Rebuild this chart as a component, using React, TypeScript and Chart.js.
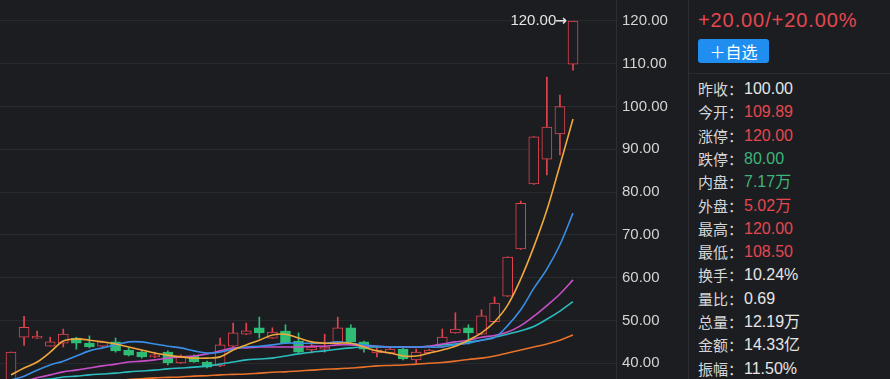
import React, { useEffect, useRef } from 'react';
import { Chart, registerables } from 'chart.js';

Chart.register(...registerables);

// ---- data ----
const opens = [35.5, 46.1, 45.9, 44.0, 44.7, 45.9, 44.7, 44.0, 45.0, 43.1, 42.6, 41.5, 42.6, 40.1, 41.7, 40.3, 39.4, 44.0, 46.8, 48.3, 45.9, 47.5, 45.2, 43.1, 43.3, 45.0, 48.3, 45.0, 42.4, 42.4, 43.3, 40.8, 42.4, 43.8, 47.1, 48.3, 46.8, 49.7, 55.7, 66.7, 81.9, 87.7, 93.6, 109.89];
const highs = [42.6, 51.0, 47.5, 46.1, 48.0, 46.1, 46.4, 45.2, 45.9, 43.6, 43.0, 42.6, 42.9, 42.0, 42.0, 40.5, 45.9, 49.4, 49.4, 50.8, 48.3, 49.0, 47.1, 44.7, 46.8, 50.8, 49.0, 45.2, 43.8, 43.5, 43.5, 43.3, 43.3, 48.0, 51.8, 49.0, 52.5, 55.5, 64.9, 77.9, 93.0, 106.9, 102.7, 120.0];
const lows = [35.0, 44.2, 45.8, 44.0, 43.8, 43.3, 43.6, 43.9, 42.6, 41.7, 41.2, 41.3, 39.6, 40.0, 40.2, 38.9, 39.2, 43.9, 46.7, 45.9, 45.8, 44.6, 42.4, 42.4, 42.6, 44.9, 44.9, 42.6, 41.5, 42.2, 40.8, 40.1, 42.2, 43.7, 47.0, 44.5, 46.7, 49.6, 55.6, 66.6, 81.8, 84.0, 88.7, 108.5];
const closes = [42.6, 48.4, 46.1, 45.0, 46.8, 44.7, 43.8, 45.0, 42.9, 41.9, 41.5, 41.7, 40.1, 41.7, 40.3, 39.1, 44.3, 47.1, 47.6, 47.1, 47.3, 44.7, 42.6, 43.8, 43.8, 48.3, 45.0, 43.3, 43.1, 43.3, 41.0, 42.6, 43.1, 46.1, 48.0, 47.1, 51.1, 54.1, 64.8, 77.4, 92.9, 95.2, 100.0, 120.0];

const ma5 = [37.3, 38.9, 40.3, 42.6, 45.2, 45.7, 45.4, 45.0, 44.5, 43.8, 43.1, 42.4, 41.9, 41.5, 41.2, 41.2, 41.5, 43.1, 44.3, 45.4, 46.6, 46.8, 45.9, 45.0, 44.7, 44.7, 44.7, 43.8, 42.9, 42.4, 41.7, 41.7, 42.4, 43.1, 44.0, 45.4, 47.1, 49.7, 53.6, 59.7, 67.2, 75.8, 86.3, 97.1];
const ma10 = [36.1, 37.0, 38.4, 39.6, 40.5, 41.7, 42.9, 43.6, 44.3, 45.0, 45.0, 44.5, 44.0, 43.6, 42.9, 42.4, 42.6, 43.3, 43.8, 44.0, 44.3, 44.7, 44.7, 44.7, 44.7, 45.0, 44.7, 44.3, 44.0, 43.8, 43.8, 43.8, 43.8, 43.8, 44.3, 44.7, 45.4, 46.0, 48.8, 52.5, 57.5, 62.0, 67.7, 75.1];
const ma20 = [35.4, 35.9, 36.6, 37.3, 38.0, 38.4, 38.9, 39.4, 39.8, 40.3, 40.5, 40.8, 41.2, 41.5, 41.7, 42.2, 42.9, 43.6, 43.6, 43.8, 43.8, 43.8, 43.8, 44.0, 44.0, 44.3, 44.3, 44.0, 44.0, 43.8, 43.8, 43.8, 44.0, 44.5, 45.0, 45.4, 46.1, 46.5, 47.3, 48.8, 51.0, 53.5, 56.2, 59.5];
const ma30 = [35.6, 35.8, 36.1, 36.3, 36.8, 37.0, 37.3, 37.5, 37.7, 38.0, 38.2, 38.4, 38.7, 38.9, 39.1, 39.4, 39.8, 40.3, 40.8, 41.0, 41.2, 41.7, 42.2, 42.6, 42.9, 43.3, 43.6, 43.8, 43.8, 43.8, 43.8, 43.8, 44.0, 44.3, 44.5, 45.0, 45.4, 46.1, 46.8, 47.6, 48.6, 50.3, 52.2, 54.4];
const ma60 = [34.7, 34.9, 35.0, 35.2, 35.4, 35.5, 35.7, 35.9, 36.0, 36.2, 36.4, 36.6, 36.7, 36.8, 37.0, 37.1, 37.3, 37.4, 37.5, 37.7, 37.9, 38.0, 38.2, 38.4, 38.6, 38.7, 38.9, 39.1, 39.4, 39.5, 39.6, 39.8, 40.0, 40.2, 40.5, 40.9, 41.2, 41.7, 42.4, 43.1, 43.8, 44.5, 45.4, 46.6];

const yTicks = [40, 50, 60, 70, 80, 90, 100, 110, 120];
const lastHighLabel = '120.00';

const headline = '+20.00/+20.00%';
const buttonLabel = '＋自选';
const panelLabels = ['昨收：', '今开：', '涨停：', '跌停：', '内盘：', '外盘：', '最高：', '最低：', '换手：', '量比：', '总量：', '金额：', '振幅：'];
const panelValues = ['100.00', '109.89', '120.00', '80.00', '7.17万', '5.02万', '120.00', '108.50', '10.24%', '0.69', '12.19万', '14.33亿', '11.50%'];
const panelTones = ['n', 'r', 'r', 'g', 'g', 'r', 'r', 'r', 'n', 'n', 'n', 'n', 'n'];

// ---- styles ----
const BG = '#1c1d21';
const RED = '#e2444f';
const GREEN = '#2fbd76';
const TEXT_RED = '#e5474f';
const TEXT_GREEN = '#3db57a';
const LINE_COLORS = ['#f0a83c', '#3a8ee6', '#c94fc9', '#2bbcbf', '#e8712b'];
const FONT = '"Liberation Sans", Arial, "Noto Sans CJK SC", sans-serif';

const lastPricePlugin = {
  id: 'lastPrice',
  afterDatasetsDraw(chart: any) {
    const { ctx, scales } = chart;
    const i = closes.length - 1;
    const px = scales.x.getPixelForValue(i) - 6;
    const py = scales.y.getPixelForValue(highs[i]);
    ctx.save();
    ctx.fillStyle = '#e4e4e4';
    ctx.textBaseline = 'middle';
    ctx.textAlign = 'right';
    ctx.font = 'bold 14px "DejaVu Sans", sans-serif';
    const aw = ctx.measureText('→').width;
    ctx.fillText('→', px, py);
    ctx.font = '15px ' + FONT;
    ctx.fillText(lastHighLabel, px - aw + 1, py);
    ctx.restore();
  },
};

function Panel() {
  const tone = (t: string) => (t === 'r' ? TEXT_RED : t === 'g' ? TEXT_GREEN : '#e6e6e6');
  return (
    <div style={{ width: 202, height: 379, borderLeft: '1px solid #2d2e33', boxSizing: 'border-box', position: 'relative', fontFamily: FONT }}>
      <div style={{ position: 'absolute', left: 9, top: 8, lineHeight: '24px', fontSize: 20, letterSpacing: 0.9, color: TEXT_RED, whiteSpace: 'nowrap' }}>{headline}</div>
      <div style={{ position: 'absolute', left: 9, top: 39, width: 71, height: 24, lineHeight: '24px', background: '#1f8ef0', borderRadius: 3, color: '#fff', fontSize: 16, textAlign: 'center', fontFamily: '"Noto Sans CJK SC", sans-serif' }}>{buttonLabel}</div>
      <div style={{ position: 'absolute', left: 0, right: 0, top: 73, borderTop: '1px solid #2a2b30' }} />
      {panelLabels.map((lab, i) => {
        const cy = 89 + 23.3 * i;
        return (
          <React.Fragment key={lab}>
            <div style={{ position: 'absolute', left: 9, top: cy - 10, lineHeight: '20px', fontSize: 15, color: '#d6d6d6', fontFamily: '"Noto Sans CJK SC", sans-serif', whiteSpace: 'nowrap' }}>{lab}</div>
            <div style={{ position: 'absolute', left: 55, top: cy - 10, lineHeight: '20px', fontSize: 16, color: tone(panelTones[i]), whiteSpace: 'nowrap' }}>{panelValues[i]}</div>
          </React.Fragment>
        );
      })}
    </div>
  );
}

export default function App() {
  const ref = useRef<HTMLCanvasElement>(null);
  useEffect(() => {
    document.body.style.margin = '0';
    const idx = closes.map((_, i) => i);
    const up = idx.map((i) => closes[i] >= opens[i]);
    const mas = [ma5, ma10, ma20, ma30, ma60];
    const lineSets: any[] = mas.map((arr, j) => ({
      type: 'line',
      label: 'MA' + j,
      data: arr.map((v, i) => ({ x: i, y: v })),
      borderColor: LINE_COLORS[j],
      borderWidth: 1.6,
      pointRadius: 0,
      tension: 0.35,
      fill: false,
      order: 0,
    }));
    const chart = new Chart(ref.current!, {
      type: 'bar',
      data: {
        datasets: [
          ...lineSets,
          {
            type: 'bar',
            label: 'body',
            data: idx.map((i) => ({ x: i, y: [opens[i], closes[i]] })),
            backgroundColor: idx.map((i) => (up[i] ? BG : GREEN)),
            borderColor: idx.map((i) => (up[i] ? RED : GREEN)),
            borderWidth: 1,
            borderSkipped: false,
            barThickness: 10,
            minBarLength: 2,
            grouped: false,
            order: 1,
          },
          {
            type: 'bar',
            label: 'wick',
            data: idx.map((i) => ({ x: i, y: [lows[i], highs[i]] })),
            backgroundColor: idx.map((i) => (up[i] ? RED : GREEN)),
            borderWidth: 0,
            barThickness: 1,
            grouped: false,
            order: 2,
          },
        ] as any,
      },
      options: {
        animation: false,
        responsive: false,
        maintainAspectRatio: false,
        devicePixelRatio: 1,
        events: [],
        layout: { padding: 0 },
        plugins: { legend: { display: false }, tooltip: { enabled: false } },
        scales: {
          x: { type: 'linear', min: -0.842, max: 46.29, offset: false, display: false },
          y: {
            type: 'linear',
            position: 'right',
            min: 36.33,
            max: 124.9,
            afterBuildTicks: (axis: any) => {
              axis.ticks = yTicks.map((v) => ({ value: v }));
            },
            afterFit: (axis: any) => {
              axis.width = 72;
              axis.paddingTop = 0;
              axis.paddingBottom = 0;
            },
            ticks: {
              padding: 6,
              color: '#d4d4d4',
              font: { size: 15, family: FONT },
              callback: (v: any) => Number(v).toFixed(2),
            },
            grid: { color: 'rgba(255,255,255,0.06)', drawTicks: false },
            border: { display: true, color: 'rgba(255,255,255,0.08)' },
          },
        },
      } as any,
      plugins: [lastPricePlugin],
    });
    return () => chart.destroy();
  }, []);

  return (
    <div style={{ position: 'fixed', left: 0, top: 0, width: 890, height: 379, background: BG, display: 'flex', overflow: 'hidden' }}>
      <div style={{ width: 688, height: 379 }}>
        <canvas ref={ref} width={688} height={379} style={{ display: 'block', width: 688, height: 379 }} />
      </div>
      <Panel />
    </div>
  );
}
